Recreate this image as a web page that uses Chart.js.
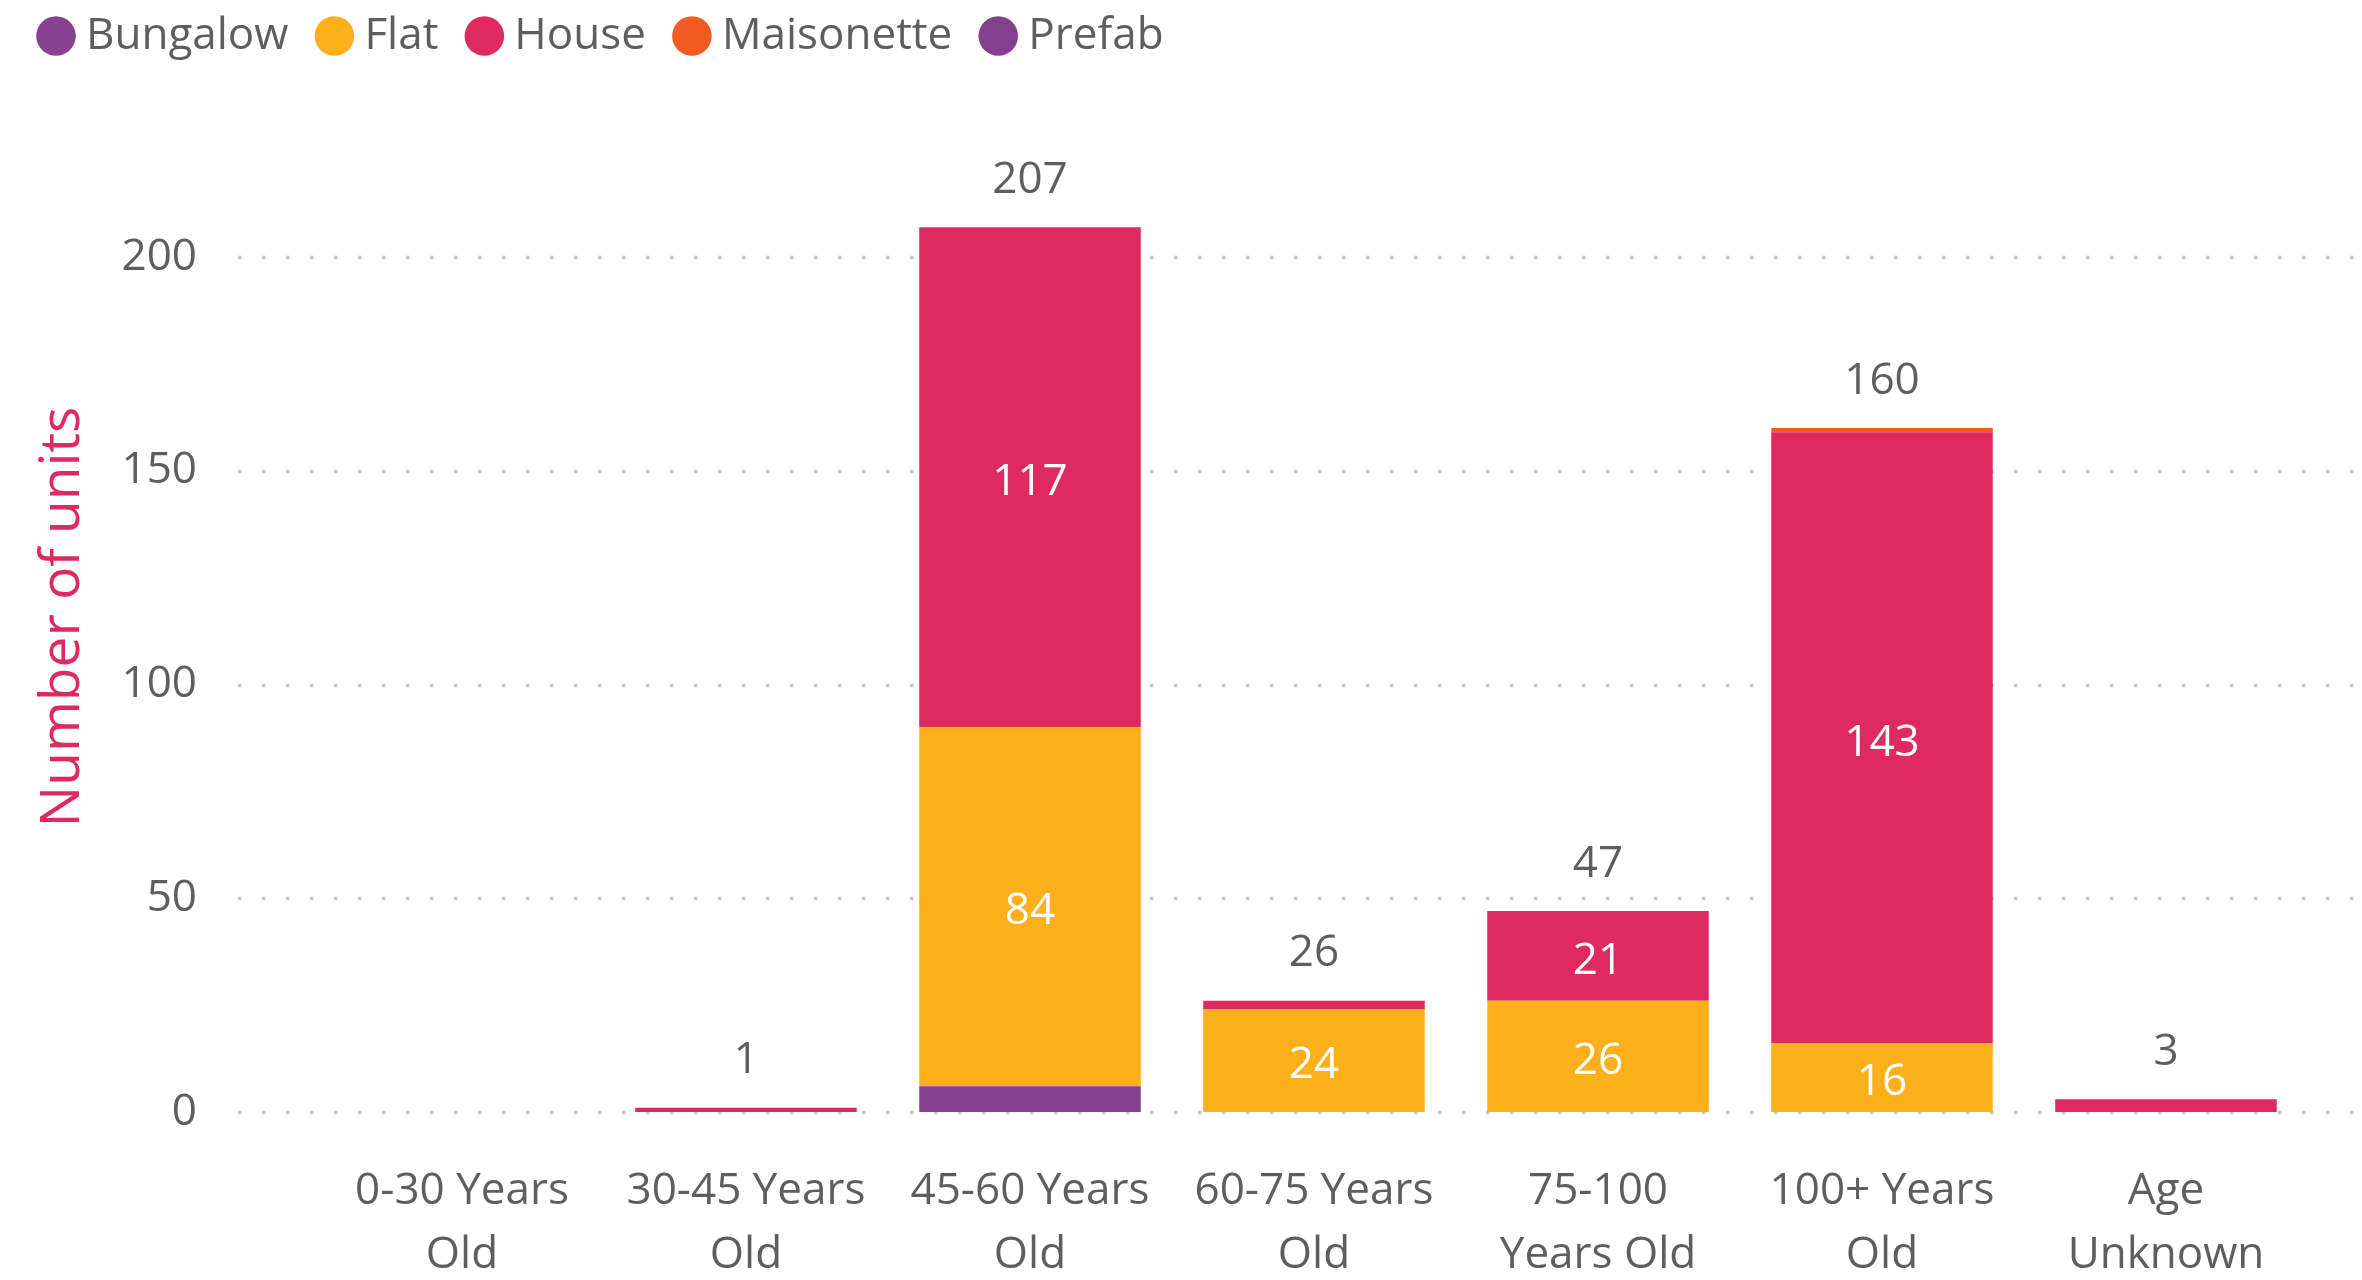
<!DOCTYPE html>
<html>
<head>
<meta charset="utf-8">
<title>Number of units by property age</title>
<script src="https://cdn.jsdelivr.net/npm/chart.js@4"></script>
<style>
  html, body { margin: 0; padding: 0; background: #ffffff; }
  #wrap { width: 2362px; height: 1280px; position: relative; }
</style>
</head>
<body>
<div id="wrap"><canvas id="chart"></canvas></div>
<script>
// Age bands (multi-line axis labels)
const categories = [
  ['0-30 Years', 'Old'],
  ['30-45 Years', 'Old'],
  ['45-60 Years', 'Old'],
  ['60-75 Years', 'Old'],
  ['75-100', 'Years Old'],
  ['100+ Years', 'Old'],
  ['Age', 'Unknown']
];

// Units per property type, one value per age band
const bungalow   = [0, 0, 6, 0, 0, 0, 0];
const flat       = [0, 0, 84, 24, 26, 16, 0];
const house      = [0, 1, 117, 2, 21, 143, 3];
const maisonette = [0, 0, 0, 0, 0, 1, 0];
const prefab     = [0, 0, 0, 0, 0, 0, 0];

// Value axis ticks
const yTicks = [0, 50, 100, 150, 200];
const yMax = 231.6;

const FONT = "'Open Sans', 'Noto Sans', sans-serif";
const GREY = '#605E5C';

Chart.defaults.font.family = FONT;
Chart.defaults.color = GREY;

// Dotted horizontal gridlines that run past the plot area on both sides
const dottedGrid = {
  id: 'dottedGrid',
  beforeDatasetsDraw(chart) {
    const y = chart.scales.y;
    const ctx = chart.ctx;
    ctx.save();
    ctx.strokeStyle = '#C6C6C6';
    ctx.lineWidth = 3.5;
    ctx.setLineDash([3.5, 20.5]);
    y.ticks.forEach(t => {
      const py = Math.round(y.getPixelForValue(t.value)) + 0.5;
      ctx.beginPath();
      ctx.moveTo(238, py);
      ctx.lineTo(chart.width, py);
      ctx.stroke();
    });
    ctx.restore();
  }
};

// Fixed legend band: the plot starts at the same height, the row sits near the top edge
const legendBand = {
  id: 'legendBand',
  beforeUpdate(chart) {
    const lg = chart.legend;
    if (lg && !lg._bandPatched) {
      const origFit = lg.fit;
      lg.fit = function () {
        origFit.call(this);
        this.height = 122;
      };
      lg._bandPatched = true;
    }
  },
  afterLayout(chart) {
    const lg = chart.legend;
    if (lg) {
      lg.top -= 24;
      lg.bottom -= 24;
    }
  }
};

// Segment values inside the bars and stack totals above them
const valueLabels = {
  id: 'valueLabels',
  afterDatasetsDraw(chart) {
    const ctx = chart.ctx;
    ctx.save();
    ctx.textAlign = 'center';
    ctx.textBaseline = 'middle';
    ctx.font = `44px ${FONT}`;
    const n = chart.data.labels.length;
    const tops = new Array(n).fill(Infinity);
    const totals = new Array(n).fill(0);
    chart.data.datasets.forEach((ds, i) => {
      const meta = chart.getDatasetMeta(i);
      ds.data.forEach((v, j) => {
        if (!v) return;
        const el = meta.data[j];
        totals[j] += v;
        tops[j] = Math.min(tops[j], el.y);
        const h = Math.abs(el.base - el.y);
        if (h >= 50) {
          ctx.fillStyle = '#FFFFFF';
          ctx.fillText(String(v), el.x, (el.y + el.base) / 2 + 5);
        }
      });
    });
    const x = chart.scales.x;
    ctx.fillStyle = GREY;
    totals.forEach((t, j) => {
      if (t > 0) {
        ctx.fillText(String(t), x.getPixelForValue(j), tops[j] - 47);
      }
    });
    ctx.restore();
  }
};

const barStyle = { barPercentage: 0.78, categoryPercentage: 1.0, borderWidth: 0 };

new Chart(document.getElementById('chart'), {
  type: 'bar',
  data: {
    labels: categories,
    datasets: [
      { label: 'Bungalow',   data: bungalow,   backgroundColor: '#86418F', ...barStyle },
      { label: 'Flat',       data: flat,       backgroundColor: '#FDB01B', ...barStyle },
      { label: 'House',      data: house,      backgroundColor: '#DF2A5F', ...barStyle },
      { label: 'Maisonette', data: maisonette, backgroundColor: '#F25B22', ...barStyle },
      { label: 'Prefab',     data: prefab,     backgroundColor: '#853F8F', ...barStyle }
    ]
  },
  options: {
    responsive: true,
    maintainAspectRatio: false,
    animation: false,
    devicePixelRatio: 1,
    layout: { padding: { left: 10, right: 54, top: 0, bottom: 0 } },
    plugins: {
      legend: {
        position: 'top',
        align: 'start',
        labels: {
          usePointStyle: true,
          pointStyle: 'circle',
          boxWidth: 16,
          boxHeight: 28,
          padding: 38,
          color: GREY,
          font: { size: 44 }
        }
      },
      tooltip: { enabled: false }
    },
    scales: {
      x: {
        stacked: true,
        grid: { display: false, drawTicks: false },
        border: { display: false },
        ticks: {
          color: GREY,
          font: { size: 44, lineHeight: 1.45 },
          padding: 48,
          maxRotation: 0,
          autoSkip: false
        },
        afterFit(scale) { scale.height = 168; }
      },
      y: {
        stacked: true,
        min: 0,
        max: yMax,
        grid: { display: false, drawTicks: false },
        border: { display: false },
        ticks: {
          color: GREY,
          font: { size: 44 },
          padding: 123
        },
        afterBuildTicks(scale) { scale.ticks = yTicks.map(v => ({ value: v })); },
        afterFit(scale) {
          scale.width = 310;
          // the wide label gap must not push the plot area down
          scale.paddingTop = 0;
          scale.paddingBottom = 0;
        },
        title: {
          display: true,
          text: 'Number of units',
          color: '#E0295F',
          font: { size: 55 },
          padding: { top: 20, bottom: 0 }
        }
      }
    }
  },
  plugins: [dottedGrid, legendBand, valueLabels]
});
</script>
</body>
</html>
